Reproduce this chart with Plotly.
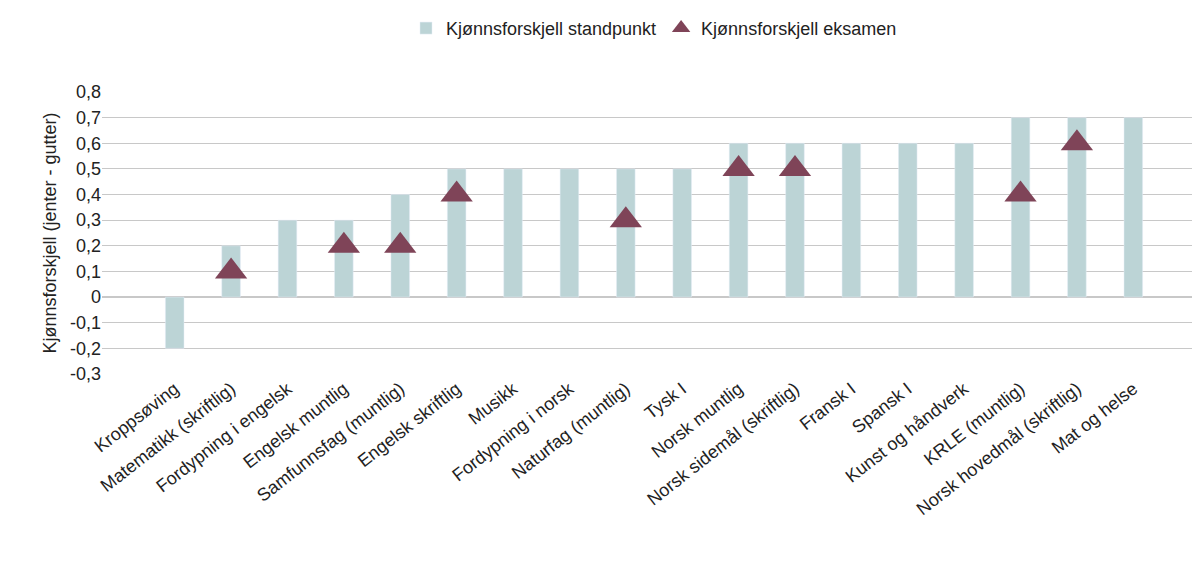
import plotly.graph_objects as go

categories = ["Kroppsøving","Matematikk (skriftlig)","Fordypning i engelsk","Engelsk muntlig",
 "Samfunnsfag (muntlig)","Engelsk skriftlig","Musikk","Fordypning i norsk","Naturfag (muntlig)",
 "Tysk I","Norsk muntlig","Norsk sidemål (skriftlig)","Fransk I","Spansk I","Kunst og håndverk",
 "KRLE (muntlig)","Norsk hovedmål (skriftlig)","Mat og helse"]
standpunkt = [-0.2,0.2,0.3,0.3,0.4,0.5,0.5,0.5,0.5,0.5,0.6,0.6,0.6,0.6,0.6,0.7,0.7,0.7]
eksamen = [None,0.1,None,0.2,0.2,0.4,None,None,0.3,None,0.5,0.5,None,None,None,0.4,0.6,None]
yticks = [-0.3,-0.2,-0.1,0,0.1,0.2,0.3,0.4,0.5,0.6,0.7,0.8]
yticklabels = ["-0,3","-0,2","-0,1","0","0,1","0,2","0,3","0,4","0,5","0,6","0,7","0,8"]

fig = go.Figure()
fig.add_bar(x=categories, y=standpunkt, name="Kjønnsforskjell standpunkt", marker_color="#bcd4d6")
fig.add_scatter(x=categories, y=eksamen, mode="markers", name="Kjønnsforskjell eksamen",
                marker=dict(symbol="triangle-up", size=28, color="#7f4458"))
fig.update_layout(
    width=1200, height=573, plot_bgcolor="white", paper_bgcolor="white",
    font=dict(family="Liberation Sans, Arial", size=18, color="#222"),
    margin=dict(l=94, r=2, t=75, b=207), bargap=0.67,
    legend=dict(orientation="h", x=0.5, xanchor="center", y=1.27, yanchor="bottom",
                font=dict(size=18), yref="paper"),
)
fig.update_layout(legend=dict(y=1.16))
fig.update_yaxes(range=[-0.3,0.8], tickvals=yticks, ticktext=yticklabels, showgrid=True,
                 gridcolor="#c8c8c8", zeroline=True, zerolinecolor="#c8c8c8", automargin=False,
                 title=dict(text="Kjønnsforskjell (jenter - gutter)", standoff=8, font=dict(size=18)),
                 tickfont=dict(size=18))
fig.update_xaxes(tickangle=-38, tickfont=dict(size=18), showline=False, automargin=False)
fig.write_html("out.html")
